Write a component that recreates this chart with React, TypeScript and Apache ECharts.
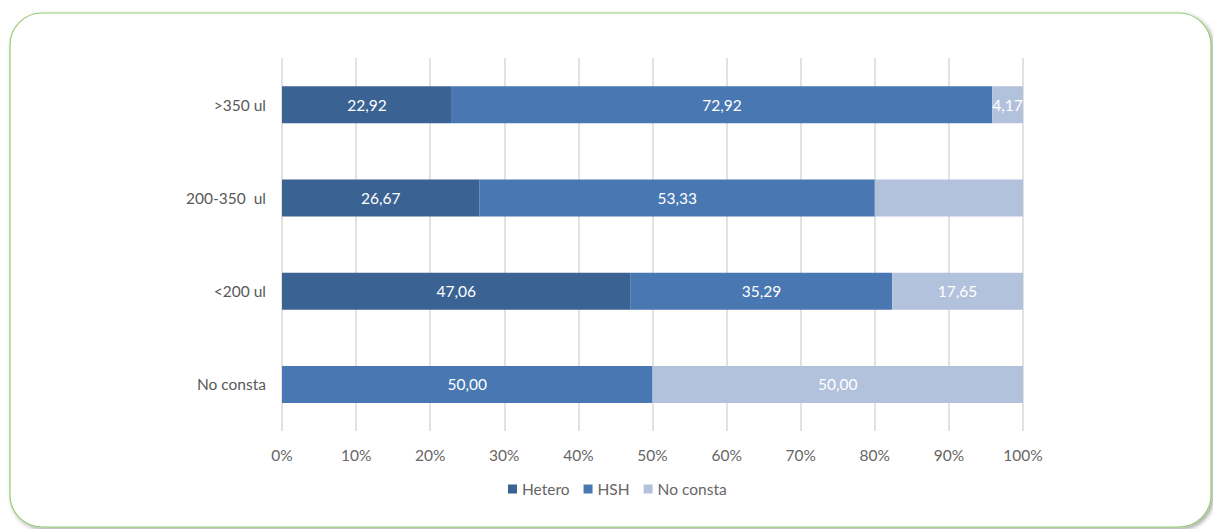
import React, { useEffect, useRef } from "react";
import * as echarts from "echarts";

const categories = ["No consta", "<200 ul", "200-350  ul", ">350 ul"];
const seriesNames = ["Hetero", "HSH", "No consta"];
const heteroValues = [0, 47.06, 26.67, 22.92];
const hshValues = [50.0, 35.29, 53.33, 72.92];
const noConstaValues = [50.0, 17.65, 20.0, 4.17];
const hiddenLabels = [[0], [], [2]]; // per series: category indexes whose label is not shown
const xTicks = [0, 10, 20, 30, 40, 50, 60, 70, 80, 90, 100];
const colors = ["#3a6292", "#4877b2", "#b3c2dc"];

export default function App() {
  const ref = useRef<HTMLDivElement>(null);
  useEffect(() => {
    const chart = echarts.init(ref.current!, null, { renderer: "svg" });
    const font = "Lato, 'Open Sans', sans-serif";
    const all = [heteroValues, hshValues, noConstaValues];
    chart.setOption({
      animation: false,
      textStyle: { fontFamily: font },
      graphic: [
        {
          type: "rect",
          shape: { x: 10, y: 13, width: 1201, height: 514, r: 32 },
          style: {
            fill: "#ffffff",
            stroke: "#95cc74",
            lineWidth: 1.2,
            shadowBlur: 4,
            shadowOffsetX: 2,
            shadowOffsetY: 2,
            shadowColor: "rgba(0,0,0,0.35)",
          },
          z: -10,
          silent: true,
        },
      ],
      grid: { left: 282, right: 190, top: 58, bottom: 98, containLabel: false },
      legend: {
        bottom: 27,
        left: 503,
        itemWidth: 9,
        itemHeight: 9,
        itemGap: 14,
        icon: "rect",
        textStyle: { color: "#666666", fontSize: 15.5, fontFamily: font },
        data: seriesNames,
      },
      xAxis: {
        type: "value",
        min: xTicks[0],
        max: xTicks[xTicks.length - 1],
        interval: 10,
        axisLine: { show: false },
        axisTick: { show: false },
        splitLine: { show: true, lineStyle: { color: "#d9d9d9", width: 1.5 } },
        axisLabel: {
          color: "#666666",
          fontSize: 15.5,
          margin: 16,
          formatter: (v: number) => `${v}%`,
        },
      },
      yAxis: {
        type: "category",
        data: categories,
        axisLine: { show: false },
        axisTick: { show: false },
        axisLabel: { color: "#595959", fontSize: 15.5, margin: 16 },
      },
      series: seriesNames.map((name, si) => ({
        name,
        type: "bar",
        stack: "total",
        barWidth: 37,
        itemStyle: { color: colors[si] },
        label: {
          show: true,
          position: "inside",
          color: "#ffffff",
          fontSize: 15.5,
          fontFamily: font,
          formatter: (p: any) => p.value.toFixed(2).replace(".", ","),
        },
        data: all[si].map((v, ci) =>
          hiddenLabels[si].includes(ci) ? { value: v, label: { show: false } } : v
        ),
      })),
    });
    return () => chart.dispose();
  }, []);
  return (
    <div
      ref={ref}
      style={{ position: "absolute", left: 0, top: 0, width: 1213, height: 529 }}
    />
  );
}
